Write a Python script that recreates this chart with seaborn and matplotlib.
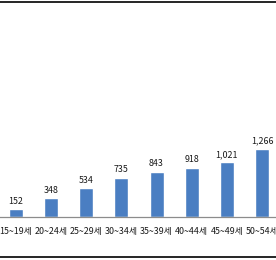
import matplotlib
matplotlib.use("Agg")
import matplotlib.pyplot as plt
import seaborn as sns
import pandas as pd
from matplotlib.lines import Line2D

categories = ["15~19세", "20~24세", "25~29세", "30~34세", "35~39세", "40~44세", "45~49세", "50~54세"]
values = [152, 348, 534, 735, 843, 918, 1021, 1266]

sns.set_theme(style="white")
plt.rcParams['font.family'] = ['Noto Sans CJK KR', 'DejaVu Sans']

df = pd.DataFrame({"age": categories, "count": values})

fig = plt.figure(figsize=(2.76, 2.60), dpi=100)
ax = fig.add_axes([0, (260 - 217) / 260, 1, 217 / 260])
sns.barplot(data=df, x="age", y="count", color="#4A7EC2", width=0.4, ax=ax, saturation=1)

ax.set_xlim(-0.455, 7.399)
ax.set_ylim(0, 4040)
for s in ["top", "left", "right"]:
    ax.spines[s].set_visible(False)
ax.spines["bottom"].set_color("#8C8C8C")
ax.spines["bottom"].set_linewidth(0.9)
ax.set_yticks([])
ax.set_xlabel("")
ax.set_ylabel("")
ax.tick_params(axis="x", length=0, pad=7.5, labelsize=6.4, colors="#1a1a1a")

for i, v in enumerate(values):
    ax.text(i, v + 60, f"{v:,}", ha="center", va="bottom", fontsize=6.4, color="#1a1a1a")

fig.add_artist(Line2D([0, 1], [1 - 1.5 / 260, 1 - 1.5 / 260], color="black", lw=1.2, transform=fig.transFigure))
fig.add_artist(Line2D([0, 1], [1 - 256.8 / 260, 1 - 256.8 / 260], color="black", lw=1.2, transform=fig.transFigure))

fig.savefig("out.png", dpi=100)
